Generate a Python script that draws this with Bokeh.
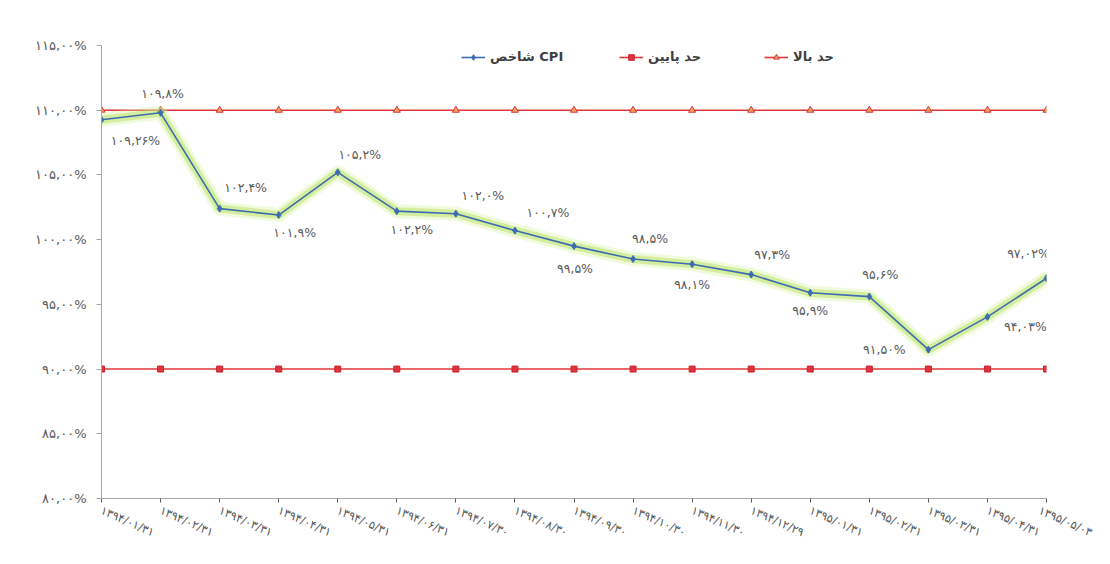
from bokeh.plotting import figure
from bokeh.models import (ColumnDataSource, FixedTicker, Legend, LegendItem, Range1d)
from bokeh.core.properties import value
from bokeh.embed import file_html
from bokeh.resources import INLINE

# ---------------- data ----------------
dates = ["۱۳۹۴/۰۱/۳۱", "۱۳۹۴/۰۲/۳۱", "۱۳۹۴/۰۳/۳۱", "۱۳۹۴/۰۴/۳۱", "۱۳۹۴/۰۵/۳۱",
         "۱۳۹۴/۰۶/۳۱", "۱۳۹۴/۰۷/۳۰", "۱۳۹۴/۰۸/۳۰", "۱۳۹۴/۰۹/۳۰", "۱۳۹۴/۱۰/۳۰",
         "۱۳۹۴/۱۱/۳۰", "۱۳۹۴/۱۲/۲۹", "۱۳۹۵/۰۱/۳۱", "۱۳۹۵/۰۲/۳۱", "۱۳۹۵/۰۳/۳۱",
         "۱۳۹۵/۰۴/۳۱", "۱۳۹۵/۰۵/۰۳"]
cpi = [109.26, 109.8, 102.4, 101.9, 105.2, 102.2, 102.0, 100.7, 99.5, 98.5,
       98.1, 97.3, 95.9, 95.6, 91.50, 94.03, 97.02]
cpi_labels = ["۱۰۹,۲۶%", "۱۰۹,۸%", "۱۰۲,۴%", "۱۰۱,۹%", "۱۰۵,۲%", "۱۰۲,۲%",
              "۱۰۲,۰%", "۱۰۰,۷%", "۹۹,۵%", "۹۸,۵%", "۹۸,۱%", "۹۷,۳%",
              "۹۵,۹%", "۹۵,۶%", "۹۱,۵۰%", "۹۴,۰۳%", "۹۷,۰۲%"]
upper = [110] * 17
lower = [90] * 17
y_ticks = [80, 85, 90, 95, 100, 105, 110, 115]
y_tick_labels = ["۸۰,۰۰%", "۸۵,۰۰%", "۹۰,۰۰%", "۹۵,۰۰%", "۱۰۰,۰۰%",
                 "۱۰۵,۰۰%", "۱۱۰,۰۰%", "۱۱۵,۰۰%"]
series_names = ["شاخص CPI", "حد پایین", "حد بالا"]

# label placement (style: pixel offsets of each data label)
lbl_dx = [34, 2, 26, 16, 22, 15, 27, 33, 1, 17, 0, 21, 0, 11, -44, 38, -18]
lbl_dy = [21, -19, -21, 17, -18, 18, -18, -18, 22, -21, 20, -20, 18, -22, 0, 10, -25]

x = list(range(len(dates)))
src = ColumnDataSource(dict(x=x, cpi=cpi, upper=upper, lower=lower,
                            lbl=cpi_labels, dx=lbl_dx, dy=lbl_dy))

p = figure(width=1094, height=548, output_backend="svg", toolbar_location=None,
           x_range=Range1d(0, len(dates) - 1), y_range=Range1d(80, 115),
           min_border_left=101, min_border_right=48, min_border_top=45,
           min_border_bottom=47)
p.outline_line_color = None
p.xgrid.grid_line_color = None
p.ygrid.grid_line_color = None
p.background_fill_color = "white"
p.border_fill_color = "white"

FONT = "DejaVu Sans"
GRAY = "#595959"

# limit lines
up_line = p.line("x", "upper", source=src, line_color="#e2373a", line_width=1.6)
up_mark = p.scatter("x", "upper", source=src, marker="triangle", size=7,
                    fill_color="#f7a35c", line_color="#d9363e", line_width=1)
lo_line = p.line("x", "lower", source=src, line_color="#e2373a", line_width=1.6)
lo_mark = p.scatter("x", "lower", source=src, marker="square", size=6,
                    fill_color="#e0313f", line_color="#c8272f", line_width=1)

# glow around CPI line
p.line("x", "cpi", source=src, line_color="#d4f09c", line_width=14, line_alpha=0.35,
       line_join="round", line_cap="round")
p.line("x", "cpi", source=src, line_color="#b6e25e", line_width=8, line_alpha=0.5,
       line_join="round", line_cap="round")

cpi_line = p.line("x", "cpi", source=src, line_color="#3d6db0", line_width=1.6)
cpi_mark = p.scatter("x", "cpi", source=src, marker="diamond", size=7,
                     fill_color="#3d6db0", line_color="#3d6db0")

# data labels
p.text("x", "cpi", text="lbl", source=src, x_offset="dx", y_offset="dy",
       text_align="center", text_baseline="middle", text_font=value(FONT),
       text_font_size="12.5px", text_color=GRAY)

# axes
p.xaxis.ticker = FixedTicker(ticks=x)
p.xaxis.major_label_overrides = {i: d for i, d in zip(x, dates)}
p.xaxis.major_label_orientation = -0.42
p.xaxis.major_label_text_font = FONT
p.xaxis.major_label_text_font_size = "11.5px"
p.xaxis.major_label_text_color = GRAY
p.xaxis.axis_line_color = "#a6a6a6"
p.xaxis.major_tick_line_color = "#595959"
p.xaxis.major_tick_in = 0
p.xaxis.major_tick_out = 4
p.xaxis.minor_tick_line_color = None
p.xaxis.major_label_standoff = 7

p.yaxis.ticker = FixedTicker(ticks=y_ticks)
p.yaxis.major_label_overrides = {t: l for t, l in zip(y_ticks, y_tick_labels)}
p.yaxis.major_label_text_font = FONT
p.yaxis.major_label_text_font_size = "13px"
p.yaxis.major_label_text_color = GRAY
p.yaxis.axis_line_color = "#a6a6a6"
p.yaxis.major_tick_line_color = "#a6a6a6"
p.yaxis.major_tick_in = 0
p.yaxis.major_tick_out = 5
p.yaxis.minor_tick_line_color = None
p.yaxis.major_label_standoff = 10

legend_specs = [
    (series_names[0], [cpi_line, cpi_mark], 360),
    (series_names[1], [lo_line, lo_mark], 518),
    (series_names[2], [up_line, up_mark], 663),
]
for name, rends, lx in legend_specs:
    lg = Legend(items=[LegendItem(label=name, renderers=rends)],
                orientation="horizontal", location=(lx, 434),
                glyph_width=24, glyph_height=14, label_standoff=5,
                padding=0, margin=0, background_fill_alpha=0,
                border_line_color=None, label_text_font=FONT,
                label_text_font_style="bold", label_text_font_size="13px",
                label_text_color="#404040")
    p.add_layout(lg, "center")

open("out.html", "w").write(file_html(p, INLINE))
